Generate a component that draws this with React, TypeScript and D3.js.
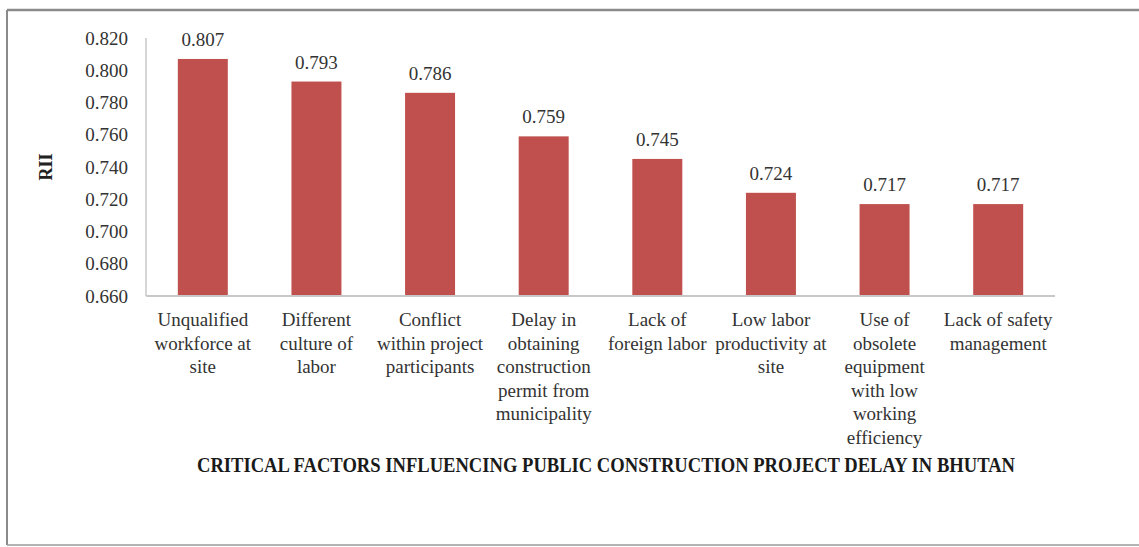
import React from "react";
import * as d3 from "d3";

const categories: string[][] = [
  ["Unqualified", "workforce at", "site"],
  ["Different", "culture of", "labor"],
  ["Conflict", "within project", "participants"],
  ["Delay in", "obtaining", "construction", "permit from", "municipality"],
  ["Lack of", "foreign labor"],
  ["Low labor", "productivity at", "site"],
  ["Use of", "obsolete", "equipment", "with low", "working", "efficiency"],
  ["Lack of safety", "management"],
];
const values: number[] = [0.807, 0.793, 0.786, 0.759, 0.745, 0.724, 0.717, 0.717];
const yTicks: number[] = [0.66, 0.68, 0.7, 0.72, 0.74, 0.76, 0.78, 0.8, 0.82];
const yLabel = "RII";
const xTitle = "CRITICAL FACTORS INFLUENCING PUBLIC CONSTRUCTION PROJECT DELAY IN BHUTAN";

const W = 1139;
const H = 547;
const left = 146;
const right = 1055;
const top = 38;
const bottom = 296;
const FONT = "Liberation Serif";

export default function App() {
  const x = d3
    .scaleBand<number>()
    .domain(d3.range(categories.length))
    .range([left, right])
    .paddingInner(0.56)
    .paddingOuter(0.28);
  const y = d3.scaleLinear().domain([0.66, 0.82]).range([bottom, top]);
  const fmt = d3.format(".3f");

  return (
    <svg
      width={W}
      height={H}
      style={{ position: "absolute", left: 0, top: 0, background: "#fff", fontFamily: FONT }}
    >
      <rect x={0} y={0} width={W} height={H} fill="#fff" />
      {/* frame */}
      <line x1={7} y1={10} x2={W} y2={10} stroke="#8a8a8a" strokeWidth={2.5} />
      <line x1={7} y1={10} x2={7} y2={545} stroke="#8a8a8a" strokeWidth={2} />
      <line x1={7} y1={545} x2={W} y2={545} stroke="#9a9a9a" strokeWidth={1.5} />

      {/* y axis */}
      <line x1={left} y1={top} x2={left} y2={bottom} stroke="#c8c8c8" strokeWidth={1.5} />
      {yTicks.map((t) => (
        <text
          key={t}
          x={128}
          y={y(t)}
          dy="0.35em"
          textAnchor="end"
          fontSize={19}
          fill="#333"
          fontFamily={FONT}
        >
          {fmt(t)}
        </text>
      ))}
      <text
        transform={`translate(52,167) rotate(-90)`}
        textAnchor="middle"
        fontSize={18}
        fontWeight="bold"
        fill="#222"
        fontFamily={FONT}
      >
        {yLabel}
      </text>

      {/* bars */}
      {values.map((v, i) => (
        <g key={i}>
          <rect
            x={x(i)!}
            y={y(v)}
            width={x.bandwidth()}
            height={bottom - y(v)}
            fill="#C0504D"
          />
          <text
            x={x(i)! + x.bandwidth() / 2}
            y={y(v) - 13}
            textAnchor="middle"
            fontSize={19}
            fill="#333"
            fontFamily={FONT}
          >
            {fmt(v)}
          </text>
        </g>
      ))}

      {/* x axis */}
      <line x1={left} y1={bottom} x2={right} y2={bottom} stroke="#c8c8c8" strokeWidth={2} />
      {categories.map((lines, i) => (
        <text
          key={i}
          x={x(i)! + x.bandwidth() / 2}
          textAnchor="middle"
          fontSize={19}
          fill="#333"
          fontFamily={FONT}
        >
          {lines.map((ln, j) => (
            <tspan key={j} x={x(i)! + x.bandwidth() / 2} y={326 + j * 23.6}>
              {ln}
            </tspan>
          ))}
        </text>
      ))}

      <text
        x={197}
        y={472}
        fontSize={20}
        fontWeight="bold"
        fill="#1a1a1a"
        fontFamily={FONT}
        textLength={818}
        lengthAdjust="spacingAndGlyphs"
      >
        {xTitle}
      </text>
    </svg>
  );
}
